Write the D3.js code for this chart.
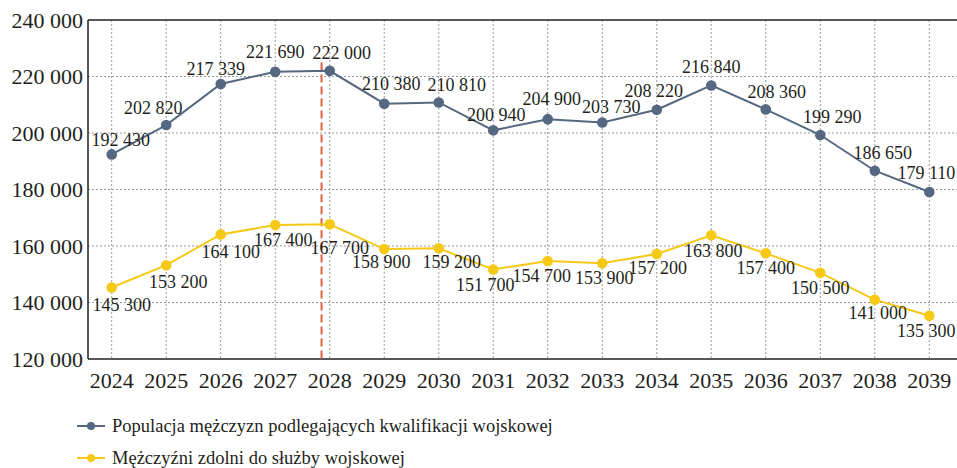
<!DOCTYPE html>
<html>
<head>
<meta charset="utf-8">
<script src="https://cdn.jsdelivr.net/npm/d3@7"></script>
<style>
  body { margin: 0; background: #fff; }
</style>
</head>
<body>
<div id="chart"></div>
<script>
const years = [2024, 2025, 2026, 2027, 2028, 2029, 2030, 2031, 2032, 2033, 2034, 2035, 2036, 2037, 2038, 2039];
const population = [192430, 202820, 217339, 221690, 222000, 210380, 210810, 200940, 204900, 203730, 208220, 216840, 208360, 199290, 186650, 179110];
const fit = [145300, 153200, 164100, 167400, 167700, 158900, 159200, 151700, 154700, 153900, 157200, 163800, 157400, 150500, 141000, 135300];
const yTicks = [120000, 140000, 160000, 180000, 200000, 220000, 240000];
const seriesNames = [
  "Populacja mężczyzn podlegających kwalifikacji wojskowej",
  "Mężczyźni zdolni do służby wojskowej"
];
const markerYear = 2027.85;
const markerTop = 225000;

// label nudges (px) relative to each point
const popNudge = [[9,-15],[-13,-17],[-5,-15],[0,-20],[12,-18],[7,-20],[18,-18],[3,-16],[4,-20],[9,-16],[-3,-19],[0,-19],[11,-18],[12,-18],[8,-18],[-3,-19]];
const fitNudge = [[10,17],[12,16],[10,17],[8,15],[10,23],[-3,13],[13,13],[-8,15],[-6,15],[2,14],[1,14],[2,15],[0,14],[0,15],[3,13],[-3,15]];

const width = 957, height = 468;
const plotLeft = 88, plotRight = 957, plotTop = 20, plotBottom = 359;
const blue = "#556781", yellow = "#f7c917";
const serif = "'Liberation Serif', 'Times New Roman', 'DejaVu Serif', serif";

const fmt = v => d3.format(",")(v).replace(/,/g, " ");

const svg = d3.select("#chart").append("svg")
  .attr("width", width)
  .attr("height", height)
  .attr("font-family", serif)
  .style("font-family", serif);

const x = d3.scaleLinear().domain([2024, 2039]).range([111.7, 929.3]);
const y = d3.scaleLinear().domain([120000, 240000]).range([plotBottom, plotTop]);

// grid
svg.append("g")
  .selectAll("line")
  .data(years)
  .join("line")
  .attr("x1", d => x(d)).attr("x2", d => x(d))
  .attr("y1", plotTop).attr("y2", plotBottom)
  .attr("stroke", "#9a9a9a")
  .attr("stroke-width", 1)
  .attr("stroke-dasharray", "2,2");

svg.append("g")
  .selectAll("line")
  .data(yTicks.slice(1, -1))
  .join("line")
  .attr("x1", plotLeft).attr("x2", plotRight)
  .attr("y1", d => y(d)).attr("y2", d => y(d))
  .attr("stroke", "#9a9a9a")
  .attr("stroke-width", 1)
  .attr("stroke-dasharray", "2,2");

// frame
svg.append("line").attr("x1", plotLeft).attr("x2", plotRight).attr("y1", plotTop).attr("y2", plotTop)
  .attr("stroke", "#231f20").attr("stroke-width", 1.5);
svg.append("line").attr("x1", plotLeft).attr("x2", plotRight).attr("y1", plotBottom).attr("y2", plotBottom)
  .attr("stroke", "#231f20").attr("stroke-width", 1.5);
svg.append("line").attr("x1", plotLeft).attr("x2", plotLeft).attr("y1", plotTop).attr("y2", plotBottom)
  .attr("stroke", "#231f20").attr("stroke-width", 1.5);

// y labels
svg.append("g")
  .selectAll("text")
  .data(yTicks)
  .join("text")
  .attr("x", plotLeft - 5)
  .attr("y", d => y(d))
  .attr("dy", "0.35em")
  .attr("text-anchor", "end")
  .attr("fill", "#231f20")
  .style("font-size", "22px")
  .text(fmt);

// x labels
svg.append("g")
  .selectAll("text")
  .data(years)
  .join("text")
  .attr("x", d => x(d))
  .attr("y", 388)
  .attr("text-anchor", "middle")
  .attr("fill", "#231f20")
  .style("font-size", "22px")
  .text(d => d);

// red dashed marker
svg.append("line")
  .attr("x1", x(markerYear)).attr("x2", x(markerYear))
  .attr("y1", y(markerTop)).attr("y2", plotBottom)
  .attr("stroke", "#e0623f")
  .attr("stroke-width", 2)
  .attr("stroke-dasharray", "8,4");

const line = d3.line().x((d, i) => x(years[i])).y(d => y(d));

function drawSeries(values, color, nudge) {
  svg.append("path")
    .datum(values)
    .attr("fill", "none")
    .attr("stroke", color)
    .attr("stroke-width", 2)
    .attr("d", line);

  svg.append("g")
    .selectAll("circle")
    .data(values)
    .join("circle")
    .attr("cx", (d, i) => x(years[i]))
    .attr("cy", d => y(d))
    .attr("r", 5.3)
    .attr("fill", color);

  svg.append("g")
    .selectAll("text")
    .data(values)
    .join("text")
    .attr("x", (d, i) => x(years[i]) + nudge[i][0])
    .attr("y", (d, i) => y(d) + nudge[i][1])
    .attr("dy", "0.35em")
    .attr("text-anchor", "middle")
    .attr("fill", "#231f20")
    .style("font-size", "18px")
    .text(fmt);
}

drawSeries(fit, yellow, fitNudge);
drawSeries(population, blue, popNudge);

// legend
const legend = svg.append("g")
  .selectAll("g")
  .data(seriesNames)
  .join("g")
  .attr("transform", (d, i) => `translate(77,${426 + i * 32})`);

legend.append("line")
  .attr("x1", 0).attr("x2", 28)
  .attr("stroke", (d, i) => i === 0 ? blue : yellow)
  .attr("stroke-width", 2);
legend.append("circle")
  .attr("cx", 14).attr("r", 4)
  .attr("fill", (d, i) => i === 0 ? blue : yellow);
legend.append("text")
  .attr("x", 35)
  .attr("dy", "0.35em")
  .attr("fill", "#231f20")
  .style("font-size", "18.5px")
  .text(d => d);
</script>
</body>
</html>
